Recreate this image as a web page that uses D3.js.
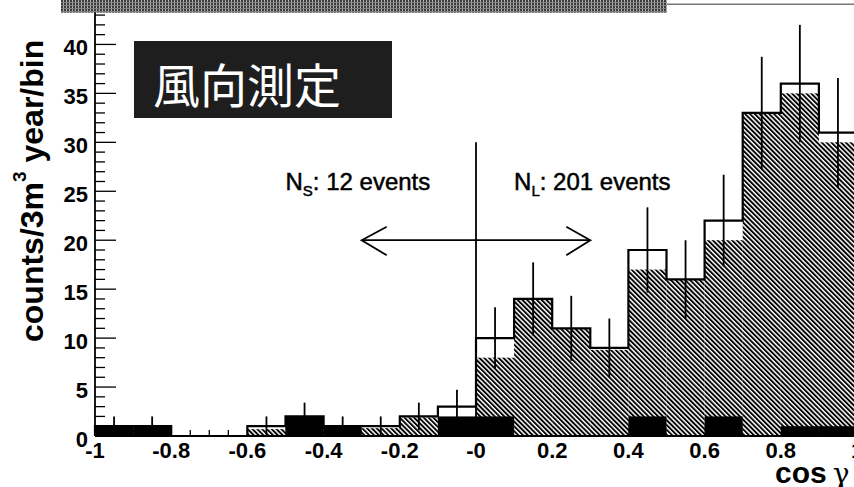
<!DOCTYPE html>
<html><head><meta charset="utf-8">
<script src="https://cdn.jsdelivr.net/npm/d3@7"></script>
<style>html,body{margin:0;padding:0;background:#fff;overflow:hidden}</style>
</head><body>
<svg id="c" width="854" height="487"></svg>
<script>
// bins (lower edges) of cos gamma, width 0.1
const binLow = [-1.0,-0.9,-0.8,-0.7,-0.6,-0.5,-0.4,-0.3,-0.2,-0.1,0.0,0.1,0.2,0.3,0.4,0.5,0.6,0.7,0.8,0.9];
const binWidth = 0.1;
// observed counts (outline with error bars)
const dataCounts = [1,1,0,0,1,2,1,1,2,3,10,14,11,9,19,16,22,33,36,31];
const dataErrors = [1,1,0,0,1,1.41,1,1,1.41,1.73,3.16,3.74,3.32,3,4.36,4,4.69,5.74,6,5.57];
// hatched histogram
const hatchedCounts = [0.6,0.6,0,0,0.7,1.4,0.8,0.8,1.9,1.6,8,14,11,8.8,17,16,20,33,35,30];
// black filled histogram
const blackCounts = [1,1,0,0,0,2,1,0,0,2,2,0,0,0,2,0,2,0,1,1];
// axis ticks
const xTickValues = [-1,-0.8,-0.6,-0.4,-0.2,0,0.2,0.4,0.6,0.8,1];
const xTickLabels = ["-1","-0.8","-0.6","-0.4","-0.2","-0","0.2","0.4","0.6","0.8","1"];
const yTickValues = [0,5,10,15,20,25,30,35,40];
const title = "風向測定";
const nsText = {label:"N", sub:"S", rest:": 12 events", x:-0.5, y:25};
const nlText = {label:"N", sub:"L", rest:": 201 events", x:0.1, y:25};
const arrowSpec = {x0:-0.3, x1:0.3, y:20};
const dividerSpec = {x:0, y0:0, y1:30};

const svg = d3.select("#c");
const x = d3.scaleLinear().domain([-1,1]).range([95,857]);
const y = d3.scaleLinear().domain([0,44.1]).range([436,4.3]);

const defs = svg.append("defs");
const hp = defs.append("pattern").attr("id","hatch").attr("patternUnits","userSpaceOnUse")
  .attr("width",3.4).attr("height",3.4).attr("patternTransform","rotate(-45)");
hp.append("rect").attr("width",3.4).attr("height",3.4).attr("fill","#fff");
hp.append("rect").attr("width",1.9).attr("height",3.4).attr("fill","#000");
const bp = defs.append("pattern").attr("id","band").attr("patternUnits","userSpaceOnUse")
  .attr("width",3).attr("height",3);
bp.append("rect").attr("width",3).attr("height",3).attr("fill","#3c3c3c");
bp.append("rect").attr("width",1).attr("height",3).attr("fill","#b0b0b0");
bp.append("rect").attr("width",3).attr("height",1).attr("y",2).attr("fill","#808080");

// frame top line
svg.append("line").attr("x1",x(-1)).attr("x2",x(1)).attr("y1",y(44.1)).attr("y2",y(44.1))
  .attr("stroke","#777").attr("stroke-width",1.5);

// x minor/major ticks (drawn under histograms)
const minorX = d3.range(0,41).map(i => -1 + i*0.05);
svg.append("g").selectAll("line").data(minorX).join("line")
  .attr("x1",d=>x(d)).attr("x2",d=>x(d)).attr("y1",y(0))
  .attr("y2",(d,i)=> i%4===0 ? y(0)-10 : y(0)-6)
  .attr("stroke","#000").attr("stroke-width",1.3);

// hatched histogram
svg.append("g").selectAll("rect").data(binLow).join("rect")
  .attr("x",d=>x(d)).attr("width",d=>x(d+binWidth)-x(d))
  .attr("y",(d,i)=>y(hatchedCounts[i])).attr("height",(d,i)=>y(0)-y(hatchedCounts[i]))
  .attr("fill","url(#hatch)");

// black histogram
svg.append("g").selectAll("rect").data(binLow).join("rect")
  .attr("x",d=>x(d)).attr("width",d=>x(d+binWidth)-x(d))
  .attr("y",(d,i)=>y(blackCounts[i])).attr("height",(d,i)=>y(0)-y(blackCounts[i]))
  .attr("fill","#000");

// data outline (step)
const stepPts = [];
binLow.forEach((b,i)=>{ stepPts.push([b,dataCounts[i]]); stepPts.push([b+binWidth,dataCounts[i]]); });
stepPts.unshift([-1,0]); stepPts.push([1,0]);
svg.append("path").datum(stepPts)
  .attr("d", d3.line().x(d=>x(d[0])).y(d=>y(d[1])))
  .attr("fill","none").attr("stroke","#000").attr("stroke-width",2.2);

// error bars
svg.append("g").selectAll("line").data(binLow.filter((b,i)=>dataCounts[i]>0)).join("line")
  .attr("x1",d=>x(d+binWidth/2)).attr("x2",d=>x(d+binWidth/2))
  .attr("y1",d=>{const i=binLow.indexOf(d);return y(Math.max(0,dataCounts[i]-dataErrors[i]));})
  .attr("y2",d=>{const i=binLow.indexOf(d);return y(dataCounts[i]+dataErrors[i]);})
  .attr("stroke","#000").attr("stroke-width",1.8);

// divider and arrow
svg.append("line").attr("x1",x(dividerSpec.x)).attr("x2",x(dividerSpec.x))
  .attr("y1",y(dividerSpec.y0)).attr("y2",y(dividerSpec.y1)).attr("stroke","#000").attr("stroke-width",1.8);
svg.append("line").attr("x1",x(arrowSpec.x0)).attr("x2",x(arrowSpec.x1))
  .attr("y1",y(arrowSpec.y)).attr("y2",y(arrowSpec.y)).attr("stroke","#000").attr("stroke-width",1.8);
const ah = d3.line();
svg.append("path").attr("d", ah([[x(arrowSpec.x0)+25,y(arrowSpec.y)-13.5],[x(arrowSpec.x0),y(arrowSpec.y)],[x(arrowSpec.x0)+25,y(arrowSpec.y)+15]]))
  .attr("fill","none").attr("stroke","#000").attr("stroke-width",1.8);
svg.append("path").attr("d", ah([[x(arrowSpec.x1)-24,y(arrowSpec.y)-13.5],[x(arrowSpec.x1),y(arrowSpec.y)],[x(arrowSpec.x1)-24,y(arrowSpec.y)+15]]))
  .attr("fill","none").attr("stroke","#000").attr("stroke-width",1.8);

// N labels
[nsText,nlText].forEach(t=>{
  const tx = svg.append("text").attr("x",x(t.x)).attr("y",y(t.y)-1)
    .attr("font-family","Liberation Sans, Arial, sans-serif").attr("font-size",24)
    .attr("fill","#000").attr("stroke","#000").attr("stroke-width",0.5);
  tx.append("tspan").text(t.label);
  tx.append("tspan").attr("font-size",15).attr("dy",6).text(t.sub);
  tx.append("tspan").attr("dy",-6).text(t.rest);
});

// axes lines
svg.append("line").attr("x1",x(-1)).attr("x2",x(-1)).attr("y1",y(0)).attr("y2",y(44.1))
  .attr("stroke","#000").attr("stroke-width",1.8);
svg.append("line").attr("x1",x(-1)).attr("x2",x(1)).attr("y1",y(0)).attr("y2",y(0))
  .attr("stroke","#000").attr("stroke-width",2);

// y ticks
const minorY = d3.range(0,45);
svg.append("g").selectAll("line").data(minorY).join("line")
  .attr("x1",x(-1)).attr("x2",d=> d%5===0 ? x(-1)+21 : x(-1)+10)
  .attr("y1",d=>y(d)).attr("y2",d=>y(d)).attr("stroke","#000").attr("stroke-width",1.3);
svg.append("g").selectAll("text").data(yTickValues).join("text")
  .attr("x",88).attr("y",d=>y(d)+10.5).attr("text-anchor","end")
  .attr("font-family","Liberation Sans, Arial, sans-serif").attr("font-weight","bold")
  .attr("font-size",22).attr("fill","#000").text(d=>d);

// x tick labels
svg.append("g").selectAll("text").data(xTickValues).join("text")
  .attr("x",d=>x(d)).attr("y",458).attr("text-anchor","middle")
  .attr("font-family","Liberation Sans, Arial, sans-serif").attr("font-weight","bold")
  .attr("font-size",22).attr("fill","#000").text((d,i)=>xTickLabels[i]);

// x title
const xt = svg.append("text").attr("x",775).attr("y",483).attr("fill","#000");
xt.append("tspan").attr("font-family","Liberation Sans, Arial, sans-serif").attr("font-weight","bold")
  .attr("font-size",30).text("cos");
xt.append("tspan").attr("dx",6).attr("font-family","DejaVu Serif, Liberation Serif, serif")
  .attr("font-size",28).text("γ");

// y title
const yt = svg.append("text").attr("transform","translate(43,342) rotate(-90)")
  .attr("font-family","Liberation Sans, Arial, sans-serif").attr("font-weight","bold")
  .attr("font-size",32).attr("fill","#000");
yt.append("tspan").text("counts/3m");
yt.append("tspan").attr("font-size",19).attr("dy",-17).text("3");
yt.append("tspan").attr("dy",17).text(" year/bin");

// top band
svg.append("rect").attr("x",61).attr("y",0).attr("width",606).attr("height",12.7).attr("fill","url(#band)");

// title box
svg.append("rect").attr("x",134).attr("y",41).attr("width",258).attr("height",77).attr("fill","#1e1e1e");
svg.append("text").attr("x",153).attr("y",82).attr("dominant-baseline","central")
  .attr("font-family","Noto Sans CJK JP, sans-serif").attr("font-size",47).attr("fill","#fff")
  .text(title);
</script>
</body></html>
